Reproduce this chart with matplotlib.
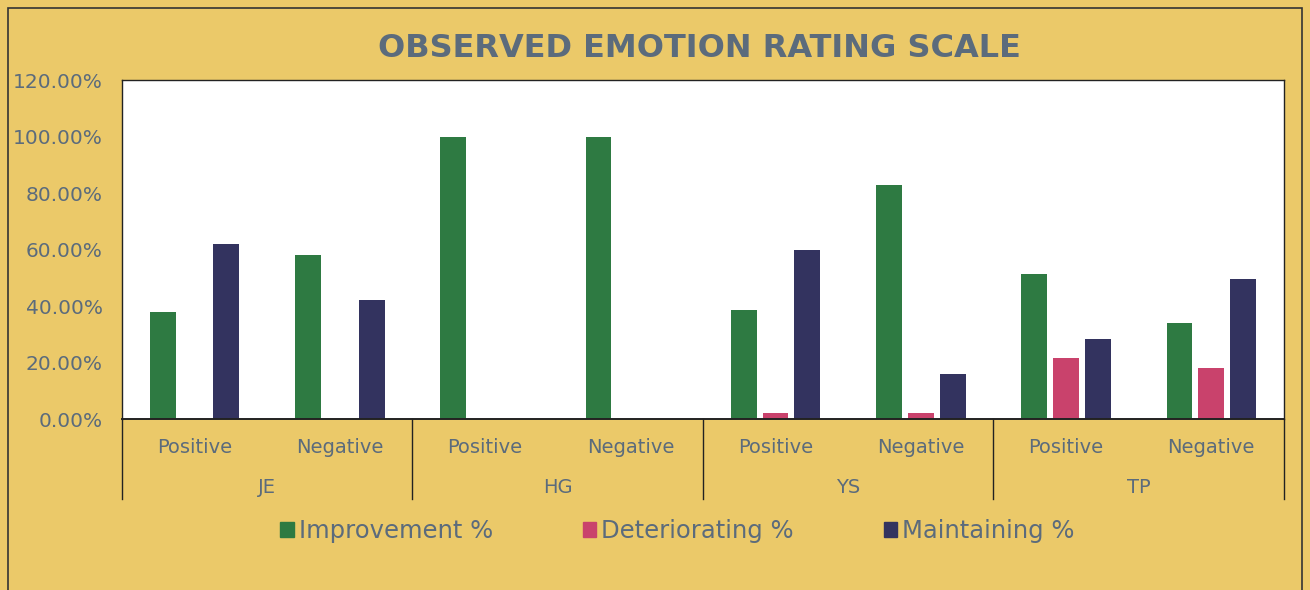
import numpy as np
import matplotlib.pyplot as plt
from matplotlib.patches import Rectangle
from matplotlib.lines import Line2D
from matplotlib.ticker import FuncFormatter

groups = ['JE', 'HG', 'YS', 'TP']
subcats = ['Positive', 'Negative']
series = ['Improvement %', 'Deteriorating %', 'Maintaining %']
improvement = [38, 58, 100, 100, 38.5, 83, 51.5, 34]
deteriorating = [0, 0, 0, 0, 2, 2, 21.5, 18]
maintaining = [62, 42, 0, 0, 60, 16, 28.5, 49.5]
colors = ['#2e7a42', '#c9426c', '#33335f']

bg = '#ebc969'
txt = '#5b6b7c'

fig = plt.figure(figsize=(13.1, 5.9), dpi=100, facecolor=bg)
ax = fig.add_axes([0.0931, 0.2898, 0.887, 0.5746])
ax.set_facecolor('white')

n = len(groups) * len(subcats)
x = np.arange(n)
w = 0.178
step = 0.219
for i, (vals, c) in enumerate(zip([improvement, deteriorating, maintaining], colors)):
    ax.bar(x + (i - 1) * step, vals, width=w, color=c, zorder=2)

ax.set_xlim(-0.5, n - 0.5)
ax.set_ylim(0, 120)
ax.set_yticks(np.arange(0, 121, 20))
ax.yaxis.set_major_formatter(FuncFormatter(lambda v, p: f'{v:.2f}%'))
ax.tick_params(axis='y', length=0, pad=14, labelsize=14.5, labelcolor=txt)
ax.set_xticks([])
for s in ax.spines.values():
    s.set_color('#222222')
    s.set_linewidth(1.0)
ax.spines['bottom'].set_linewidth(1.4)

# two-level category axis
trans = ax.get_xaxis_transform()
for k in range(n):
    ax.text(k, -0.083, subcats[k % 2], transform=trans, ha='center', va='center',
            fontsize=14, color=txt)
for g, name in enumerate(groups):
    ax.text(2 * g + 0.5, -0.203, name, transform=trans, ha='center', va='center',
            fontsize=14, color=txt)
for b in range(len(groups) + 1):
    ax.add_line(Line2D([2 * b - 0.5, 2 * b - 0.5], [0, -0.235], transform=trans,
                       color='#222222', lw=1.0, clip_on=False))

fig.text(0.534, 0.918, 'OBSERVED EMOTION RATING SCALE', ha='center', va='center',
         fontsize=23, fontweight='bold', color=txt)

handles = [Rectangle((0, 0), 1, 1, color=c) for c in colors]
fig.legend(handles, series, loc='center', bbox_to_anchor=(0.517, 0.1), ncol=3,
           frameon=False, fontsize=17.5, labelcolor=txt, handlelength=0.55,
           handleheight=0.55, handletextpad=0.2, columnspacing=3.7)

fig.patches.append(Rectangle((8 / 1310, -0.05), 1294 / 1310, 1 - 8 / 590 + 0.05,
                             transform=fig.transFigure, fill=False,
                             edgecolor='#333333', lw=1.2))

fig.savefig('out.png', dpi=100, facecolor=bg)
